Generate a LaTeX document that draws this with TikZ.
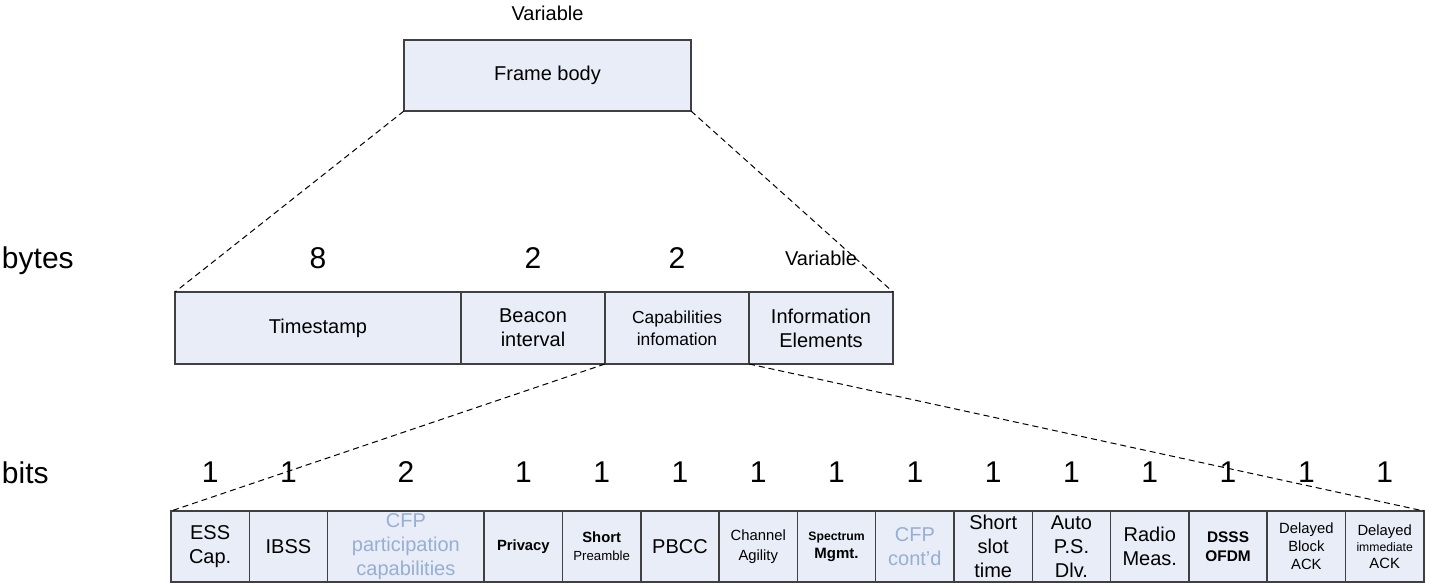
\documentclass[tikz,border=0pt]{standalone}
\usepackage{fontspec}
\setmainfont{Liberation Sans}
\usepackage{tikz}
\usetikzlibrary{positioning}
\definecolor{fieldfill}{RGB}{232,237,247}
\definecolor{fieldline}{RGB}{64,64,64}
\definecolor{fadetext}{RGB}{150,175,210}
\newcommand{\fsz}[2]{\fontsize{#1}{#2}\selectfont}

\begin{document}
\begin{tikzpicture}[node distance=0pt, outer sep=0pt, font=\fsz{10}{12}]
  \tikzstyle{field}=[draw=fieldline, fill=fieldfill, line width=0.75pt, align=center, inner sep=1pt]
  \tikzstyle{bitbox}=[field, minimum width=39.15pt, minimum height=35.5pt]
  \tikzstyle{bigbit}=[field, minimum width=78.3pt, minimum height=35.5pt]
  \tikzstyle{bytebox}=[field, minimum width=72pt, minimum height=36pt]
  \tikzstyle{count}=[font=\fsz{15}{18}, inner sep=0pt]
  \tikzstyle{zoomline}=[dash pattern=on 3pt off 2pt, line width=0.5pt]

  \useasboundingbox (0,0) rectangle (714.5pt,-293.5pt);

  \node[field, minimum width=143.5pt, minimum height=35.5pt] (body) at (273.75pt,-37.75pt) {Frame body};
  \node[inner sep=0pt] (bodylen) [above=9.4pt of body] {Variable};

  \node[count, anchor=base west] (bytes) at (1pt,-134.5pt) {bytes};
  \node[field, minimum width=143pt, minimum height=36pt] (ts) at (159pt,-164pt) {Timestamp};
  \node[bytebox] (bi) [right=of ts] {Beacon\\interval};
  \node[bytebox, font=\fsz{8.7}{11}] (ci) [right=of bi] {Capabilities\\infomation};
  \node[bytebox, font=\fsz{10}{12}] (ie) [right=of ci] {Information\\Elements};
  \node[count] (tslen) at ([yshift=17pt]ts.north) {8};
  \node[count] (bilen) at ([yshift=17pt]bi.north) {2};
  \node[count] (cilen) at ([yshift=17pt]ci.north) {2};
  \node[inner sep=0pt] (ielen) at ([yshift=17pt]ie.north) {Variable};

  \node[count, anchor=base west] (bits) at (1pt,-241.5pt) {bits};
  \node[bitbox] (ess) at (105.075pt,-273.25pt) {ESS\\Cap.};
  \node[bitbox] (ibss) [right=of ess] {IBSS};
  \node[bigbit, text=fadetext] (cfp) [right=of ibss] {CFP\\participation\\capabilities};
  \node[bitbox] (priv) [right=of cfp] {\fsz{7.4}{9}\bfseries Privacy};
  \node[bitbox] (pre) [right=of priv] {\fsz{7.4}{9}\bfseries Short\\[-3pt]\fsz{6.6}{8}Preamble};
  \node[bitbox] (pbcc) [right=of pre] {PBCC};
  \node[bitbox, font=\fsz{7.4}{10}] (agil) [right=of pbcc] {Channel\\Agility};
  \node[bitbox] (spec) [right=of agil] {\fsz{6.1}{8}\bfseries Spectrum\\[-3pt]\fsz{7.5}{9}\bfseries Mgmt.};
  \node[bitbox, text=fadetext] (cfpc) [right=of spec] {CFP\\cont’d};
  \node[bitbox] (slot) [right=of cfpc] {Short\\slot\\time};
  \node[bitbox] (apsd) [right=of slot] {Auto\\P.S.\\Dlv.};
  \node[bitbox] (radio) [right=of apsd] {Radio\\Meas.};
  \node[bitbox, font=\fsz{7.7}{9.5}\bfseries] (dsss) [right=of radio] {DSSS\\OFDM};
  \node[bitbox, font=\fsz{7.4}{9}] (delb) [right=of dsss] {Delayed\\Block\\ACK};
  \node[bitbox, font=\fsz{7.4}{8.3}] (deli) [right=of delb] {Delayed\\{\fsz{6.1}{8.3}immediate}\\ACK};

  \node[count] (esslen) at ([yshift=19.5pt]ess.north) {1};
  \node[count] (ibsslen) at ([yshift=19.5pt]ibss.north) {1};
  \node[count] (cfplen) at ([yshift=19.5pt]cfp.north) {2};
  \node[count] (privlen) at ([yshift=19.5pt]priv.north) {1};
  \node[count] (prelen) at ([yshift=19.5pt]pre.north) {1};
  \node[count] (pbcclen) at ([yshift=19.5pt]pbcc.north) {1};
  \node[count] (agillen) at ([yshift=19.5pt]agil.north) {1};
  \node[count] (speclen) at ([yshift=19.5pt]spec.north) {1};
  \node[count] (cfpclen) at ([yshift=19.5pt]cfpc.north) {1};
  \node[count] (slotlen) at ([yshift=19.5pt]slot.north) {1};
  \node[count] (apsdlen) at ([yshift=19.5pt]apsd.north) {1};
  \node[count] (radiolen) at ([yshift=19.5pt]radio.north) {1};
  \node[count] (dssslen) at ([yshift=19.5pt]dsss.north) {1};
  \node[count] (delblen) at ([yshift=19.5pt]delb.north) {1};
  \node[count] (delilen) at ([yshift=19.5pt]deli.north) {1};

  \draw[zoomline] (body.south west) -- (ts.north west)
                  (body.south east) -- (ie.north east)
                  (ci.south west) -- (ess.north west)
                  (ci.south east) -- (deli.north east);
\end{tikzpicture}
\end{document}
